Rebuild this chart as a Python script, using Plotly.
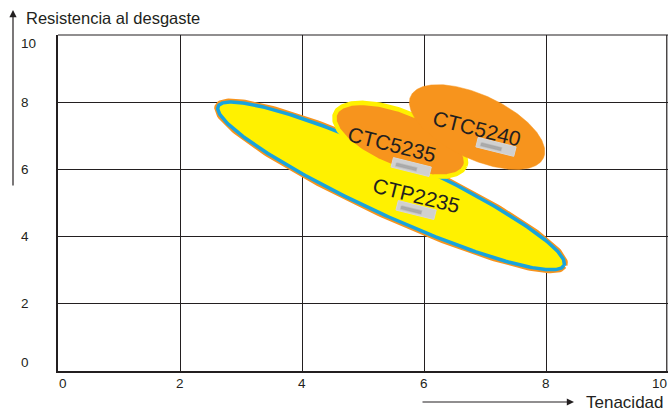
import numpy as np
import plotly.graph_objects as go

# ---------------- data ----------------
x_ticks = [0, 2, 4, 6, 8, 10]
y_ticks = [0, 2, 4, 6, 8, 10]
x_title = "Tenacidad"
y_title = "Resistencia al desgaste"

grades = ["CTP2235", "CTC5235", "CTC5240"]
center_x = [5.46, 5.61, 6.87]
center_y = [5.51, 6.88, 7.26]
half_len = [3.12, 1.15, 1.20]     # in x-units
half_wid = [0.48, 0.46, 0.525]    # in x-units
tilt_deg = [24.7, 22.0, 25.0]

label_x = [5.88, 5.48, 6.87]
label_y = [5.21, 6.73, 7.23]
logo_x = [5.87, 5.79, 7.18]
logo_y = [4.79, 6.07, 6.67]

# ---------------- layout constants ----------------
W, H = 669, 413
ML, MT = 58, 35
PW, PH = 610, 336
MR, MB = W - ML - PW, H - MT - PH
XR, YR = [0, 10], [0, 10]
k = (PW / (XR[1] - XR[0])) / (PH / (YR[1] - YR[0]))  # y-units per x-unit

ORANGE = "#F7941D"
YELLOW = "#FFF100"
BLUE = "#19A3DC"
INK = "#231F20"
FONT = "Liberation Sans, Arial, sans-serif"


def px_x(sx):
    return (sx - ML) / PW


def px_y(sy):
    return (MT + PH - sy) / PH


def ellipse(cx, cy, a, b, deg, n=300):
    t = np.linspace(0, 2 * np.pi, n)
    th = np.deg2rad(deg)
    u, v = a * np.cos(t), b * np.sin(t)
    dx = u * np.cos(th) - v * np.sin(th)
    dy = u * np.sin(th) + v * np.cos(th)  # screen (down)
    return cx + dx, cy - dy * k


def rrect(cx, cy, w, h, deg):
    th = np.deg2rad(deg)
    pts = [(-w / 2, -h / 2), (w / 2, -h / 2), (w / 2, h / 2), (-w / 2, h / 2), (-w / 2, -h / 2)]
    xs, ys = [], []
    for u, v in pts:
        xs.append(cx + u * np.cos(th) - v * np.sin(th))
        ys.append(cy - (u * np.sin(th) + v * np.cos(th)) * k)
    return xs, ys


fig = go.Figure()

# CTP2235: orange outer rim, blue rim, yellow fill
ex, ey = ellipse(center_x[0], center_y[0], half_len[0], half_wid[0], tilt_deg[0])
fig.add_trace(go.Scatter(x=ex, y=ey, mode="lines", line=dict(color=ORANGE, width=7),
                         hoverinfo="skip", showlegend=False))
fig.add_trace(go.Scatter(x=ex, y=ey, mode="lines", fill="toself", fillcolor=YELLOW,
                         line=dict(color=BLUE, width=3.5), hoverinfo="skip", showlegend=False))

# CTC5235: orange with yellow rim
ex, ey = ellipse(center_x[1], center_y[1], half_len[1], half_wid[1], tilt_deg[1])
fig.add_trace(go.Scatter(x=ex, y=ey, mode="lines", fill="toself", fillcolor=ORANGE,
                         line=dict(color=YELLOW, width=4.5), hoverinfo="skip", showlegend=False))

# CTC5240: plain orange
ex, ey = ellipse(center_x[2], center_y[2], half_len[2], half_wid[2], tilt_deg[2])
fig.add_trace(go.Scatter(x=ex, y=ey, mode="lines", fill="toself", fillcolor=ORANGE,
                         line=dict(color=ORANGE, width=0.5), hoverinfo="skip", showlegend=False))

# blurred grey logo plates under each label
for lx, ly in zip(logo_x, logo_y):
    rx, ry = rrect(lx, ly, 0.64, 0.16, 14)
    fig.add_trace(go.Scatter(x=rx, y=ry, mode="lines", fill="toself", fillcolor="#D0D0D0",
                             line=dict(color="#D8D8D8", width=1), hoverinfo="skip", showlegend=False))
    sx, sy = rrect(lx - 0.08, ly + 0.005, 0.34, 0.05, 14)
    fig.add_trace(go.Scatter(x=sx, y=sy, mode="lines", fill="toself", fillcolor="rgba(140,140,140,0.55)",
                             line=dict(color="rgba(160,160,160,0.4)", width=1.5),
                             hoverinfo="skip", showlegend=False))

annotations = []
for g, lx, ly in zip(grades, label_x, label_y):
    annotations.append(dict(x=lx, y=ly, xref="x", yref="y", text=g, showarrow=False,
                            textangle=14, font=dict(size=21, color=INK, family=FONT)))

# tick labels
for v in x_ticks:
    anchor = "left" if v == x_ticks[0] else ("right" if v == x_ticks[-1] else "center")
    annotations.append(dict(x=v, y=0, xref="x", yref="paper", text=str(v), showarrow=False,
                            xanchor=anchor, yanchor="top", yshift=-4, borderpad=0,
                            font=dict(size=13.5, color=INK, family=FONT)))
for v in y_ticks:
    anchor = "bottom" if v == y_ticks[0] else ("top" if v == y_ticks[-1] else "middle")
    annotations.append(dict(x=px_x(20), y=v, xref="paper", yref="y", text=str(v),
                            showarrow=False, xanchor="left", yanchor=anchor, borderpad=0,
                            font=dict(size=13.5, color=INK, family=FONT)))

# axis titles and arrows
annotations.append(dict(x=px_x(24), y=px_y(18), xref="paper", yref="paper",
                        text=y_title, showarrow=False, xanchor="left", yanchor="middle",
                        font=dict(size=16.5, color=INK, family=FONT)))
annotations.append(dict(x=px_x(665), y=px_y(413), xref="paper", yref="paper",
                        text=x_title, showarrow=False, xanchor="right", yanchor="bottom",
                        borderpad=0, font=dict(size=17, color=INK, family=FONT)))
annotations.append(dict(x=px_x(13), y=px_y(10), xref="paper", yref="paper",
                        ax=0, ay=177, text="", showarrow=True, arrowhead=2, arrowsize=1.2,
                        arrowwidth=1.2, arrowcolor=INK))
annotations.append(dict(x=px_x(574), y=px_y(402), xref="paper", yref="paper",
                        ax=-153, ay=0, text="", showarrow=True, arrowhead=2, arrowsize=1.2,
                        arrowwidth=1.2, arrowcolor=INK))

shapes = [
    dict(type="line", xref="paper", yref="paper", x0=0, x1=1, y0=1, y1=1,
         line=dict(color=INK, width=1.2)),
    dict(type="line", xref="paper", yref="paper", x0=0.998, x1=0.998, y0=0, y1=1,
         line=dict(color=INK, width=1.2)),
]

fig.update_layout(
    width=W, height=H,
    margin=dict(l=ML, r=MR, t=MT, b=MB),
    paper_bgcolor="white", plot_bgcolor="white",
    showlegend=False,
    annotations=annotations,
    shapes=shapes,
    xaxis=dict(range=XR, tickvals=x_ticks, showticklabels=False, ticks="",
               showgrid=True, gridcolor=INK, gridwidth=1, zeroline=False,
               showline=True, linecolor=INK, linewidth=2.2, fixedrange=True),
    yaxis=dict(range=YR, tickvals=y_ticks, showticklabels=False, ticks="",
               showgrid=True, gridcolor=INK, gridwidth=1, zeroline=False,
               showline=True, linecolor=INK, linewidth=2.2, fixedrange=True),
)

fig.write_html(
    "out.html",
    config={"displayModeBar": False},
    post_script="document.body.style.margin='0';document.body.style.overflow='hidden';",
)
